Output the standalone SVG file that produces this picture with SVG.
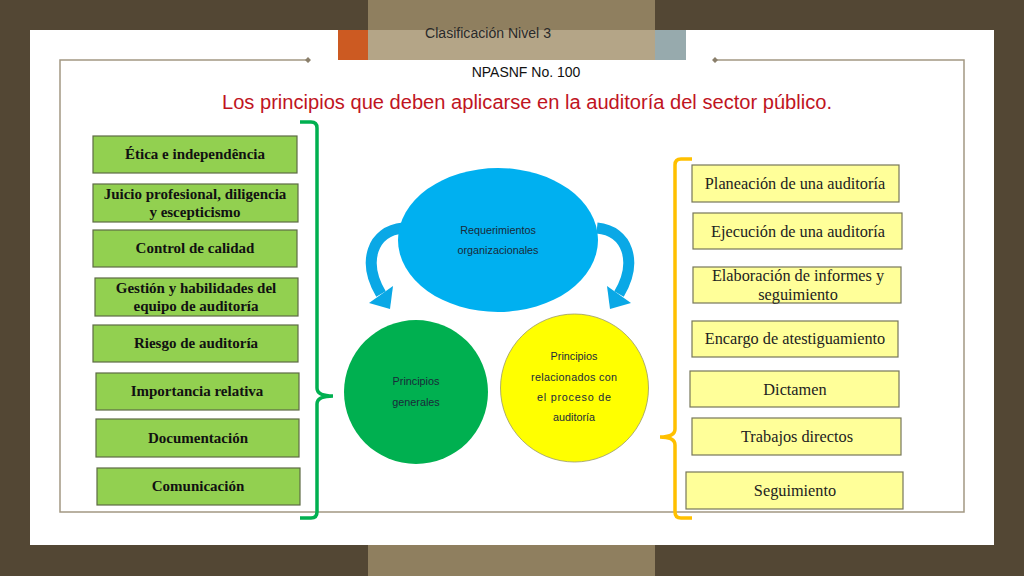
<svg xmlns="http://www.w3.org/2000/svg" width="1024" height="576" viewBox="0 0 1024 576">
<style>
.gbox{fill:#92D050;stroke:#5E6B45;stroke-width:1.2}
.ybox{fill:#FFFF99;stroke:#77775A;stroke-width:1.2}
.gt{font-family:"Liberation Serif",serif;font-weight:bold;font-size:15px;fill:#111;text-anchor:middle}
.yt{font-family:"Liberation Serif",serif;font-size:16.3px;fill:#222;text-anchor:middle}
.ct{font-family:"Liberation Sans",Arial,sans-serif;font-size:10.8px;fill:#1A2A3A;text-anchor:middle}
.frame{fill:none;stroke:#A39883;stroke-width:1.5}
.arrow{fill:none;stroke:#0AA8E6;stroke-width:11}
</style>
<rect x="0" y="0" width="1024" height="576" fill="#534734"/>
<rect x="30" y="30" width="964" height="515" fill="#FFFFFF"/>
<rect x="368" y="0" width="287" height="30" fill="#8F7F5F"/>
<rect x="338" y="30" width="30" height="30" fill="#CC5A22"/>
<rect x="368" y="30" width="287" height="30" fill="#B4A587"/>
<rect x="655" y="30" width="31" height="30" fill="#97AAAD"/>
<rect x="368" y="545" width="287" height="31" fill="#8F7F5F"/>
<g id="frame">
<path class="frame" d="M308 60 H60 V512 H964 V60 H715"/>
<path d="M308 57 L311 60 L308 63 L305 60 Z M715 57 L718 60 L715 63 L712 60 Z" fill="#8A7F6B"/>
</g>
<text x="488" y="38" font-family="Liberation Sans,Arial,sans-serif" font-size="14" fill="#2A2A2A" text-anchor="middle" textLength="126" lengthAdjust="spacingAndGlyphs">Clasificación Nivel 3</text>
<text x="526" y="77" font-family="Liberation Sans,Arial,sans-serif" font-size="14" fill="#111" text-anchor="middle">NPASNF No. 100</text>
<text x="527" y="109" font-family="Liberation Sans,Arial,sans-serif" font-size="19.5" fill="#C0141E" text-anchor="middle" textLength="610" lengthAdjust="spacingAndGlyphs">Los principios que deben aplicarse en la auditoría del sector público.</text>

<g id="connectors">
<path d="M300 122 H311 Q317 122 317 128 V388 Q317 396 333 396 Q317 396 317 404 V512 Q317 518 311 518 H300" fill="none" stroke="#00B050" stroke-width="3.5"/>
<path d="M692 159 H681 Q675 159 675 165 V429 Q675 437 660 437 Q675 437 675 445 V512 Q675 518 681 518 H692" fill="none" stroke="#FFC000" stroke-width="3.5"/>
<path class="arrow" d="M403 228 C372 231 362 262 381 294"/>
<polygon points="393,286 390,309 369,303" fill="#0AA8E6"/>
<path class="arrow" d="M597 228 C628 231 638 262 619 294"/>
<polygon points="607,286 610,309 631,303" fill="#0AA8E6"/>
</g>

<g id="n-req"><ellipse cx="498" cy="240" rx="100" ry="72" fill="#00B0F0"/>
<text class="ct" x="498" y="234">Requerimientos</text><text class="ct" x="498" y="254">organizacionales</text></g>
<g id="n-gen"><circle cx="416" cy="392" r="72" fill="#00B050"/>
<text class="ct" x="416" y="385">Principios</text><text class="ct" x="416" y="406">generales</text></g>
<g id="n-proc"><circle cx="574.5" cy="388" r="74" fill="#FFFF00" stroke="#999966" stroke-width="0.8"/>
<text class="ct" x="574" y="360">Principios</text><text class="ct" x="574" y="381" textLength="86" lengthAdjust="spacing">relacionados con</text><text class="ct" x="574" y="401" textLength="74" lengthAdjust="spacing">el proceso de</text><text class="ct" x="574" y="421">auditoría</text></g>

<g id="n-etica"><rect class="gbox" x="93" y="136" width="204" height="37"/><text class="gt" x="195" y="159">Ética e independência</text></g>
<g id="n-juicio"><rect class="gbox" x="93" y="184" width="205" height="38"/><text class="gt" x="195" y="199">Juicio profesional, diligencia</text><text class="gt" x="195" y="217">y escepticismo</text></g>
<g id="n-control"><rect class="gbox" x="93" y="230" width="204" height="37"/><text class="gt" x="195" y="253">Control de calidad</text></g>
<g id="n-gestion"><rect class="gbox" x="95" y="278" width="203" height="38"/><text class="gt" x="196" y="293">Gestión y habilidades del</text><text class="gt" x="196" y="311">equipo de auditoría</text></g>
<g id="n-riesgo"><rect class="gbox" x="93" y="325" width="205" height="37"/><text class="gt" x="196" y="348">Riesgo de auditoría</text></g>
<g id="n-importancia"><rect class="gbox" x="96" y="373" width="203" height="37"/><text class="gt" x="197" y="396">Importancia relativa</text></g>
<g id="n-doc"><rect class="gbox" x="96" y="419" width="203" height="38"/><text class="gt" x="198" y="443">Documentación</text></g>
<g id="n-com"><rect class="gbox" x="97" y="468" width="203" height="37"/><text class="gt" x="198" y="491">Comunicación</text></g>

<g id="n-plan"><rect class="ybox" x="692" y="165" width="207" height="37"/><text class="yt" x="795" y="189">Planeación de una auditoría</text></g>
<g id="n-ejec"><rect class="ybox" x="693" y="213" width="209" height="36"/><text class="yt" x="798" y="237">Ejecución de una auditoría</text></g>
<g id="n-elab"><rect class="ybox" x="693" y="267" width="208" height="36"/><text class="yt" x="798" y="281">Elaboración de informes y</text><text class="yt" x="798" y="300">seguimiento</text></g>
<g id="n-encargo"><rect class="ybox" x="692" y="321" width="206" height="36"/><text class="yt" x="795" y="344">Encargo de atestiguamiento</text></g>
<g id="n-dict"><rect class="ybox" x="690" y="371" width="209" height="36"/><text class="yt" x="795" y="395">Dictamen</text></g>
<g id="n-trab"><rect class="ybox" x="692" y="418" width="209" height="37"/><text class="yt" x="797" y="442">Trabajos directos</text></g>
<g id="n-seg"><rect class="ybox" x="686" y="472" width="217" height="37"/><text class="yt" x="795" y="496">Seguimiento</text></g>
</svg>
